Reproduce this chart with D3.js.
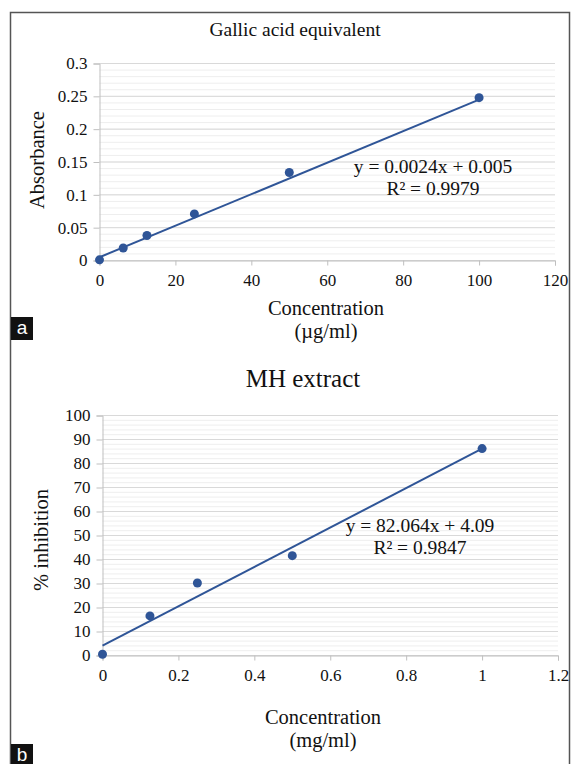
<!DOCTYPE html>
<meta charset="utf-8">
<script src="https://d3js.org/d3.v7.min.js"></script>
<style>
body { margin: 0; background: #fff; }
svg text { font-family: "Liberation Serif", "DejaVu Serif", serif !important; fill: #111; }
.axis path, .axis line { stroke: #bfbfbf; }
svg text.letter { font-family: "Liberation Sans", Arial, sans-serif !important; fill: #fff; }
</style>
<body>
</body>
<script>

// panel a - gallic acid standard
var gallicX = [0, 6.25, 12.5, 25, 50, 100];
var gallicY = [0.001, 0.019, 0.038, 0.071, 0.134, 0.248];
var gallicFit = [0.0024, 0.005];   // slope, intercept
var gallicR2 = "0.9979";
var gallicXTicks = [0, 20, 40, 60, 80, 100, 120];
var gallicYTicks = [0, 0.05, 0.1, 0.15, 0.2, 0.25, 0.3];

// panel b - MH extract
var mhX = [0, 0.125, 0.25, 0.5, 1];
var mhY = [0.5, 16.5, 30.2, 41.6, 86.2];
var mhFit = [82.064, 4.09];
var mhR2 = "0.9847";
var mhXTicks = [0, 0.2, 0.4, 0.6, 0.8, 1, 1.2];
var mhYTicks = [0, 10, 20, 30, 40, 50, 60, 70, 80, 90, 100];

var width = 574, height = 764;
var blue = "#2f5597";

var svg = d3.select("body").append("svg")
  .attr("width", width)
  .attr("height", height);

// outer frame
svg.append("path")
  .attr("d", "M10.5,766 V12.5 H569.5 V766")
  .attr("fill", "none")
  .attr("stroke", "#555")
  .attr("stroke-width", 1.5);

function drawPanel(o) {
  var x = d3.scaleLinear().domain(o.xDomain).range([o.left, o.right]);
  var y = d3.scaleLinear().domain(o.yDomain).range([o.bottom, o.top]);
  var g = svg.append("g");

  // minor gridlines
  g.selectAll(".minor")
    .data(d3.range(o.yDomain[0], o.yDomain[1] + o.minor / 2, o.minor))
    .enter().append("line")
    .attr("x1", o.left).attr("x2", o.right)
    .attr("y1", function(d) { return y(d); })
    .attr("y2", function(d) { return y(d); })
    .attr("stroke", "#eeeeee");

  // major gridlines
  g.selectAll(".major")
    .data(o.yTicks)
    .enter().append("line")
    .attr("x1", o.left).attr("x2", o.right)
    .attr("y1", function(d) { return y(d); })
    .attr("y2", function(d) { return y(d); })
    .attr("stroke", "#d9d9d9");

  var xAxis = g.append("g")
    .attr("class", "axis")
    .attr("transform", "translate(0," + o.bottom + ")")
    .call(d3.axisBottom(x).tickValues(o.xTicks).tickSize(5).tickSizeOuter(5).tickFormat(d3.format("~g")));
  xAxis.attr("font-family", null).attr("font-size", null);
  xAxis.selectAll("text").attr("font-size", 17).attr("dy", "1.1em").attr("y", 7);

  var yAxis = g.append("g")
    .attr("class", "axis")
    .attr("transform", "translate(" + o.left + ",0)")
    .call(d3.axisLeft(y).tickValues(o.yTicks).tickSize(6).tickSizeOuter(6).tickFormat(d3.format("~g")));
  yAxis.attr("font-family", null).attr("font-size", null);
  yAxis.selectAll("text").attr("font-size", 17).attr("x", -12);
  yAxis.select(".domain").attr("stroke", "#d9d9d9");

  // linear trendline
  var x0 = o.xs[0], x1 = o.xs[o.xs.length - 1];
  g.append("line")
    .attr("x1", x(x0)).attr("y1", y(o.fit[0] * x0 + o.fit[1]))
    .attr("x2", x(x1)).attr("y2", y(o.fit[0] * x1 + o.fit[1]))
    .attr("stroke", blue)
    .attr("stroke-width", 2);

  g.selectAll(".pt")
    .data(o.xs)
    .enter().append("circle")
    .attr("cx", function(d) { return x(d); })
    .attr("cy", function(d, i) { return y(o.ys[i]); })
    .attr("r", 4.5)
    .attr("fill", blue);

  g.append("text")
    .attr("x", o.titleX).attr("y", o.titleY)
    .attr("text-anchor", "middle")
    .attr("font-size", o.titleSize)
    .text(o.title);

  g.append("text")
    .attr("transform", "translate(" + o.yLabelX + "," + o.yLabelY + ") rotate(-90)")
    .attr("text-anchor", "middle")
    .attr("font-size", 20.5)
    .text(o.yLabel);

  g.append("text")
    .attr("x", o.xLabelX).attr("y", o.xLabelY)
    .attr("text-anchor", "middle")
    .attr("font-size", 20.5)
    .text("Concentration");
  g.append("text")
    .attr("x", o.xLabelX).attr("y", o.xLabelY + 23)
    .attr("text-anchor", "middle")
    .attr("font-size", 20.5)
    .text(o.unit);

  g.append("text")
    .attr("x", o.eqX).attr("y", o.eqY)
    .attr("text-anchor", "middle")
    .attr("font-size", 19.5)
    .text(o.eq);
  g.append("text")
    .attr("x", o.eqX).attr("y", o.eqY + 22)
    .attr("text-anchor", "middle")
    .attr("font-size", 19.5)
    .text("R\u00b2 = " + o.r2);

  // panel letter
  g.append("rect")
    .attr("x", 11).attr("y", o.letterY)
    .attr("width", 22).attr("height", 23)
    .attr("fill", "#111");
  g.append("text")
    .attr("class", "letter")
    .attr("x", 22).attr("y", o.letterY + 17)
    .attr("text-anchor", "middle")
    .attr("font-size", 19)
    .text(o.letter);
}

drawPanel({
  xs: gallicX, ys: gallicY, fit: gallicFit, r2: gallicR2,
  xTicks: gallicXTicks, yTicks: gallicYTicks,
  xDomain: [0, 120], yDomain: [0, 0.3], minor: 0.01,
  left: 99.5, right: 555, top: 63.5, bottom: 260.5,
  title: "Gallic acid equivalent", titleX: 295, titleY: 36, titleSize: 19.5,
  yLabel: "Absorbance", yLabelX: 44, yLabelY: 160,
  xLabelX: 326, xLabelY: 315, unit: "(\u00b5g/ml)",
  eq: "y = 0.0024x + 0.005", eqX: 433, eqY: 173,
  letter: "a", letterY: 317
});

drawPanel({
  xs: mhX, ys: mhY, fit: mhFit, r2: mhR2,
  xTicks: mhXTicks, yTicks: mhYTicks,
  xDomain: [0, 1.2], yDomain: [0, 100], minor: 2,
  left: 102.5, right: 558, top: 415.5, bottom: 655.5,
  title: "MH extract", titleX: 303, titleY: 387, titleSize: 25,
  yLabel: "% inhibition", yLabelX: 48, yLabelY: 540,
  xLabelX: 323, xLabelY: 724, unit: "(mg/ml)",
  eq: "y = 82.064x + 4.09", eqX: 420, eqY: 532,
  letter: "b", letterY: 744
});

</script>
